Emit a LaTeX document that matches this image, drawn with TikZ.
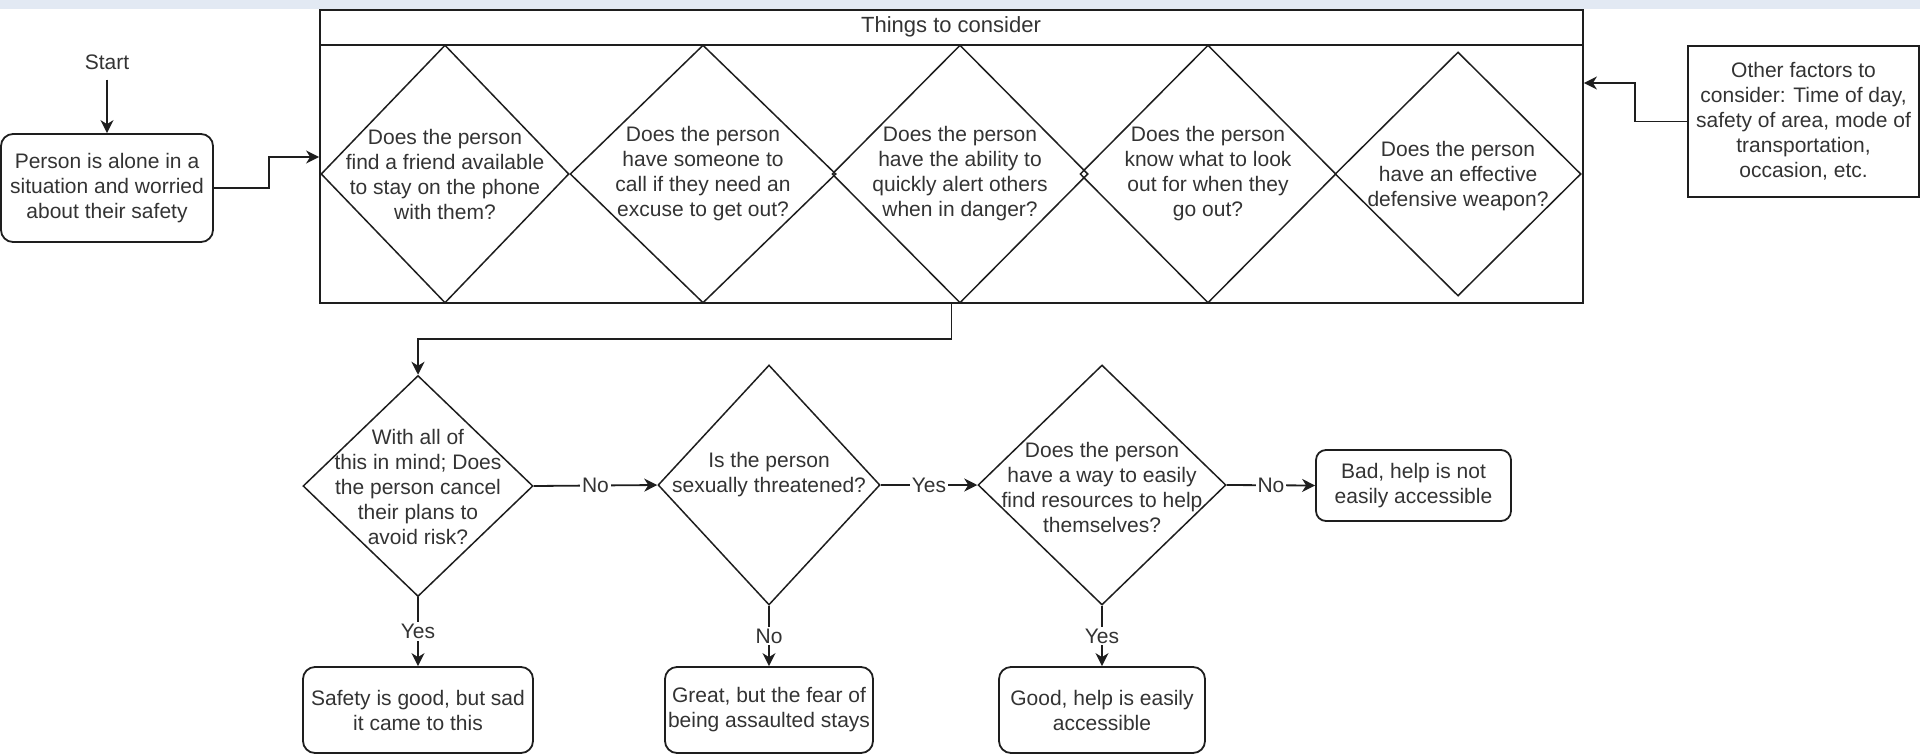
\documentclass[tikz,border=0pt]{standalone}
\usepackage{fontspec}
\setmainfont{Liberation Sans}
\usetikzlibrary{shapes.geometric,arrows.meta}
\definecolor{ink}{HTML}{1E1E1E}
\definecolor{txt}{HTML}{333333}
\definecolor{band}{RGB}{226,233,243}

\begin{document}
\begin{tikzpicture}[x=0.5pt,y=-0.5pt,
  font=\fontsize{10.5pt}{12.5pt}\selectfont,
  every node/.style={text=txt},
  line/.style={draw=ink,line width=0.9pt},
  arr/.style={line,-{Stealth[length=6.5pt,width=6.5pt,inset=2pt]}},
  dia/.style={draw=ink,line width=0.75pt,diamond,inner sep=0pt},
  qtext/.style={align=center,inner sep=0pt},
  rbox/.style={draw=ink,line width=0.9pt,rounded corners=6pt,align=center,inner sep=0pt},
  sbox/.style={draw=ink,line width=0.9pt,align=center,inner sep=0pt},
  elabel/.style={fill=white,inner sep=1pt}
]
\useasboundingbox (0,0) rectangle (1920,755);
\fill[band] (0,0) rectangle (1920,9);

% start and first situation
\node[anchor=base,inner sep=0pt] (start) at (107,69) {Start};
\node[rbox,minimum width=106pt,minimum height=54pt] (p) at (107,188)
  {Person is alone in a\\situation and worried\\about their safety};

% container of things to consider
\node[sbox,minimum width=631.5pt,minimum height=146.5pt] (cont) at (951.5,156.5) {};
\node[inner sep=0pt,font=\fontsize{11pt}{13pt}\selectfont] (title) at (951,27) {Things to consider};
\draw[line] (cont.west |- 0,45) -- (cont.east |- 0,45);

\node[dia,minimum width=124pt,minimum height=129pt] (d1) at (445,174) {};
\node[qtext] (d1t) at (d1) {Does the person\\find a friend available\\to stay on the phone\\with them?};
\node[dia,minimum width=133pt,minimum height=129pt] (d2) at (703,174) {};
\node[qtext] (d2t) at (d2) {Does the person\\have someone to\\call if they need an\\excuse to get out?};
\node[dia,minimum width=128pt,minimum height=129pt] (d3) at (960,174) {};
\node[qtext] (d3t) at (d3) {Does the person\\have the ability to\\quickly alert others\\when in danger?};
\node[dia,minimum width=128pt,minimum height=129pt] (d4) at (1208,174) {};
\node[qtext] (d4t) at (d4) {Does the person\\know what to look\\out for when they\\go out?};
\node[dia,minimum width=123pt,minimum height=122pt] (d5) at (1458,174) {};
\node[qtext] (d5t) at (1458,176) {Does the person\\have an effective\\defensive weapon?};

% other factors
\node[sbox,minimum width=115.5pt,minimum height=75.5pt] (of) at (1803.5,121.5)
  {Other factors to\\consider: Time of day,\\safety of area, mode of\\transportation,\\occasion, etc.};

% decision row
\node[dia,minimum width=115pt,minimum height=110.5pt] (q1) at (418,486) {};
\node[qtext] (q1t) at (418,487) {With all of\\this in mind; Does\\the person cancel\\their plans to\\avoid risk?};
\node[dia,minimum width=111pt,minimum height=120pt] (q2) at (769,485) {};
\node[qtext] (q2t) at (769,475) {Is the person\\sexually threatened?};
\node[dia,minimum width=124pt,minimum height=120pt] (q3) at (1102,485) {};
\node[qtext] (q3t) at (1102,487) {Does the person\\have a way to easily\\find resources to help\\themselves?};

% outcomes
\node[rbox,minimum width=97.5pt,minimum height=35.5pt,rounded corners=5pt] (bad) at (1413.5,485.5)
  {Bad, help is not\\easily accessible};
\node[rbox,minimum width=115pt,minimum height=43pt] (safe) at (418,710)
  {Safety is good, but sad\\it came to this};
\node[rbox,minimum width=104pt,minimum height=43pt] (great) at (769,710)
  {Great, but the fear of\\being assaulted stays};
\node[rbox,minimum width=103pt,minimum height=43pt] (good) at (1102,710)
  {Good, help is easily\\accessible};

% connectors
\draw[arr,shorten <=5pt] (start.south) -- (p.north);
\draw[arr] (p.east) -- ++(55,0) |- (cont.west |- 0,157);
\draw[arr] (of.west) -- ++(-52,0) |- (cont.east |- 0,83);
\draw[arr] (cont.south) -- ++(0,35) -| (q1.north);
\draw[arr] (q1.east) -- node[elabel] (l1) {No} (q2.west);
\draw[arr] (q2.east) -- node[elabel] (l2) {Yes} (q3.west);
\draw[arr] (q3.east) -- node[elabel] (l3) {No} (bad.west);
\draw[arr] (q1.south) -- node[elabel] (l4) {Yes} (safe.north);
\draw[arr] (q2.south) -- node[elabel] (l5) {No} (great.north);
\draw[arr] (q3.south) -- node[elabel] (l6) {Yes} (good.north);
\end{tikzpicture}
\end{document}
